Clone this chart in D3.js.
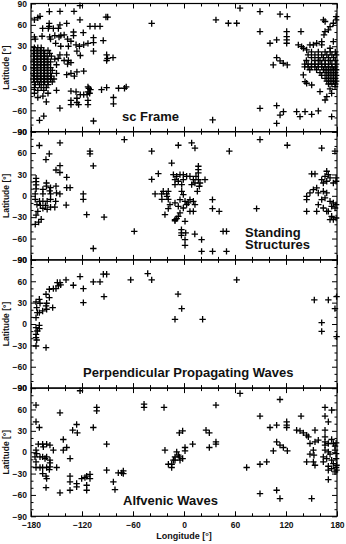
<!DOCTYPE html>
<html>
<head>
<meta charset="utf-8">
<script src="https://cdn.jsdelivr.net/npm/d3@7"></script>
<style>
body { margin: 0; background: #fff; }
svg { display: block; }
text { font-family: "Liberation Sans", Arial, sans-serif; font-weight: bold; fill: #111; }
</style>
</head>
<body>
<svg width="346" height="544"></svg>
<script>
// [longitude, latitude] of each event
const scFrame = [
  [-158.4,78.7],[-145.9,79],[-129.4,79],[-122.4,87],[-172,70],[-169.4,72],[-176,67],[-158.6,62],[-158.6,58],
  [-166.3,55],[-159.6,55],[-153.7,55],[-147.8,55],[-146,60],[-138,62],[-122.4,67],[-130,50],[-130,45],[-118.5,49],
  [-110.6,58],[-104.7,58],[-98.8,58],[-106.5,42],[-106.5,35],[-106.5,23],[-91.8,71],[-89.8,71],[-95,38],[-91,18],
  [-90,13],[-91,10],[-83.5,14],[-38,62],[-176,43],[-175,40],[-167,44],[-158,43],[-157,40],[-152,45],[-147,43],
  [-145,45],[-141,46],[-137,40],[-151,34],[-145,30],[-136,30],[-133,37],[-127,32],[-123,30],[-118,32],[-113,34],
  [-126,23],[-122,17],[-138,18],[-141,10],[-146,18],[-148,13],[-137,5],[-136,10],[-133,7],[-126,-6],[-138,-10],
  [-133,-8],[-129,-12],[-118,-5],[-113,-27],[-112,-29],[-110,-31],[-91,-28],[-97,-31],[-77,-29],[-70,-29],[-68,-27],
  [-83,-42],[-83,-51],[-133,-33],[-127,-34],[-122,-38],[-133,-46],[-133,-52],[-126,-43],[-126,-49],[-124,-52],
  [-113,-46],[-113,-52],[-114,-38],[-111,-36],[-113,-34],[-146,-57],[-118,-38],[-106.5,-75],[-170,-74],[-165,-68],
  [-162,-48],[-172,-42],[-166,-40],
  [-176,28],[-172,28],[-168,28],
  [-177,24],[-173,24],[-169,24],[-165,24],[-160,24],
  [-176,20],[-172,20],[-168,20],[-164,20],[-158,20],
  [-177,16],[-173,16],[-169,16],[-165,16],[-161,16],[-156,16],
  [-176,12],[-172,12],[-168,12],[-164,12],[-160,12],[-152,12],
  [-177,8],[-173,8],[-169,8],[-165,8],[-161,8],[-157,8],
  [-176,4],[-172,4],[-168,4],[-164,4],[-160,4],[-150,4],
  [-177,0],[-173,0],[-169,0],[-165,0],[-161,0],[-157,0],
  [-176,-4],[-172,-4],[-168,-4],[-164,-4],[-160,-4],[-155,-4],
  [-177,-8],[-173,-8],[-169,-8],[-165,-8],[-161,-8],[-157,-8],[-150,-8],
  [-176,-12],[-172,-12],[-168,-12],[-164,-12],[-160,-12],[-156,-12],
  [-177,-16],[-173,-16],[-169,-16],[-165,-16],[-161,-16],[-157,-16],[-153,-16],
  [-176,-20],[-172,-20],[-168,-20],[-164,-20],[-160,-20],[-155,-20],
  [-175,-24],[-170,-24],[-165,-24],[-160,-24],
  [-176,-28],[-168,-28],[-162,-28],[-172,-32],[-165,-32],[-150,-32],[-176,-36],[-160,-36],
  [37.6,67],[52.2,62.3],[62,62.3],[65.9,83.4],[89.4,78.7],[89.4,50.6],[113,75],[121.5,71.7],[120.8,50.6],
  [120.8,43.6],[120.8,38.9],[120.8,34.2],[137.6,50.6],[101.2,34.2],[109,38.9],[109,14],[113,9.4],[116.8,6.1],
  [121.5,3.7],[105,3.7],[89.4,-57.2],[109,-53.4],[109,-78.3],[117,-61.9],[113,-66.6],[33.7,-73.5],
  [132.5,-61.9],[136.5,-68.9],[142.4,-61.9],[150.2,-65.6],[158,-60.9],[173.7,-68.9],
  [164,67],[166,64.7],[175.7,62.3],[179,71.7],[179,67],[171.8,57.6],[169.8,53],[165.9,50.6],[164.7,46],
  [152.2,31.9],[156.1,34.2],[148.2,31.9],[140.4,27.2],[134.5,31.9],[138.4,29.5],[144.3,24.8],[162,36.6],
  [162,31.9],[175.7,36.6],[171.8,27.2],
  [140.4,-10.3],[142.4,-19.7],[144.3,-22],[150.2,-24.4],[160,-33.7],[166,-45.5],[168,-40.8],[173.7,-36.1],
  [177.7,-26.7],[171.8,-30],
  [150,22],[158,22],[166,22],[172,22],[178,22],
  [146,18],[154,18],[162,18],[168,18],[174,18],[179,18],
  [150,14],[158,14],[164,14],[170,14],[176,14],
  [144,10],[154,10],[160,10],[166,10],[172,10],[178,10],
  [142,5],[146,5],[150,5],[154,5],[158,5],[162,5],[166,5],[170,5],[174,5],[179,5],
  [142,1],[146,1],[150,1],[154,1],[158,1],[162,1],[166,1],[170,1],[174,1],[178,1],
  [148,-3],[156,-3],[164,-3],[168,-3],[172,-3],[176,-3],[179,-3],
  [160,-7],[166,-7],[170,-7],[174,-7],[178,-7],
  [162,-11],[168,-11],[172,-11],[176,-11],[179,-11],
  [166,-15],[170,-15],[174,-15],[178,-15],
  [168,-19],[172,-19],[176,-19],[179,-19],
  [170,-23],[174,-23],[178,-23]
];

const standing = [
  [-170.2,70.6],[-145.9,74.3],[-158.5,59],[-162.4,50.9],[-145.9,42.4],[-150.6,36.2],[-146,32.7],[-138,26],
  [-174,24.6],[-174,20],[-174,15.3],[-174,9.7],[-161.8,18],[-161.8,13.5],[-166,9],[-157,11.4],[-158,7],
  [-175,2.6],[-166,2.6],[-157,2.6],[-150,4],[-146,2.6],[-150.6,13.5],[-138,11.4],[-134,11.4],
  [-175,-5],[-170,-7.7],[-166,-7.7],[-161,-7.7],[-157,-5],[-151,-7.7],
  [-173,-12.3],[-169,-13.4],[-163,-13.4],[-157,-16],[-152,-16],[-166,-17.5],[-161,-19],[-172,-22],
  [-174,-27],[-175,-40],[-171,-37],[-168,-33],
  [-138.6,-13],[-118.5,2.6],[-118.5,-5],[-110.6,62.6],[-110.6,59],[-106.7,42],[-114.5,-26.5],[-94,-30],
  [-58.5,-50],[-106.7,-74],[-70.2,79],[-38,62.6],[-38,23],[-30.2,31],[-34,2.6],
  [-24.4,6.3],[-18.5,6.3],[-26.3,2.6],[-20.4,2.6],[-26,-5],[-18.5,-5],[-20,-0.7],[-22.4,-26.5],[-18.5,-18],
  [-14.5,46],[-6.7,71],[-10.6,-35],
  [9,74.3],[12.9,67],[53.3,62.6],[89.4,79],[121.5,71],[162,67],[177.6,62.6],[33.5,-5.4],[33.5,-18],
  [41.4,-21.8],[85.4,-18],
  [-3,-47.6],[-3,-52],[-3,-55.5],[2,-52],[12.7,-53.7],[1.2,-61.6],[1.2,-69.6],[20.7,-61.6],[20.7,-78],
  [33.6,-78],[50,-78],[46,-50],[50,-50],
  [16.9,41.5],[16.9,36.8],[16.9,32.1],[14.1,27.4],[16.9,22.7],[18.8,18],[18,13.4],[15.7,6.3],[24.7,22.7],
  [-12.5,29.8],[-8.6,27.4],[-4.7,29.8],[-0.8,29.8],[3.1,27.4],[-10.6,22.7],[-6.7,20.4],[-0.8,22.7],[7,27.4],
  [11,22.7],[12.9,18],[9,15.7],[-10.6,15.7],[-2.7,15.7],[-2.7,6.3],[-0.8,1.6],[-4.7,-5.4],[1.2,-7.7],
  [7,-5.4],[11,-7.7],[12.9,-12.4],[3.1,-12.4],[-10.6,-10],[-6.7,-14.8],[-0.8,-17.1],[5,-10],[11,-21.8],
  [7,-21.8],[-4.7,-24.1],[-6.7,-28.8],[-10.6,-33.5],[-8.6,-32.1],[1.2,-35.8],[-16.5,-12.4],
  [150.2,30.7],[154.1,30.7],[167.9,34.5],[165.9,27.4],[169.8,29.8],[171.8,25.1],[162,22.7],[163.9,18],
  [167.9,20.4],[175.7,18],[179,25.1],[179,20.4],[148.2,4],[152.2,8.7],[156.1,11],[144.3,-0.7],[144.3,-5.4],
  [158,4],[163.9,6.3],[167.9,4],[165.9,-3],[171.8,-7.7],[175.7,-10],[173.7,-14.8],[177.7,-17.1],[179,-12.4],
  [169.8,-21.8],[163.9,-17.1],[158,-12.4],[162,-5.4],[144.3,-21.8],[156.1,-21.8],[167.9,-21.8],
  [175.7,-33.5],[171.8,-33.5],[179,-31.2],[173.7,-28.8]
];

const perpendicular = [
  [-174.1,31],[-173.3,23],[-170.2,34.7],[-169.4,29.1],[-172.5,16],[-170.2,16],[-166.3,18.3],[-174.1,8.9],
  [-161.6,20.7],[-162.3,25.4],[-161.6,29.1],[-162.3,41.8],[-158.4,37.1],[-158.4,48.8],[-153.7,49.7],
  [-150.6,49.7],[-154.5,23],[-147.8,53.5],[-145.9,58.2],[-149,58.2],[-145.1,54.9],[-138.8,61.9],
  [-130.2,54.4],[-122.3,66.6],[-118.4,49.7],[-118.4,30],[-106.7,59.1],[-98.8,59.1],[-94.9,69.9],[-91,69.9],
  [-94.1,38.5],[-62.7,61.9],[-42.7,70.8],[-38,61.9],
  [-174.1,-5.1],[-172.5,-9.8],[-170.2,-1.8],[-170.2,-6.5],[-174.1,-14.5],[-174.1,-19.2],[-173.3,-22.5],
  [-174.1,-30.9],[-162.3,-33.2],
  [-7,42],[-2.7,21.6],[-10.6,6.6],[21.9,6.6],[62,61.9],[153.3,33.8],[169.8,33.8],[162,1.9],[162,-10.3],
  [177.6,21.6],[179.5,38.5],[179.5,-17.8]
];

const alfvenic = [
  [-174.1,66.1],[-174.1,42.7],[-170.2,34.7],[-122.3,86.3],[-145.9,55.3],[-102.7,62.8],[-102.7,58.1],
  [-131,30.9],[-125.5,27.2],[-126.3,38.9],[-106.7,34.7],[-142,17.8],[-142,2.8],[-138,6.6],[-134,-8.9],
  [-91,11.3],[-47,67.5],[-47,62.8],[-23.5,62.8],[-22.4,2.8],[-18.4,-16.9],
  [-174.1,2.8],[-173.3,-1.9],[-175.3,-6.5],[-174.1,-13.6],[-171.4,11.3],[-166.3,11.3],[-165.5,7.5],
  [-161.6,11.3],[-157.7,9.9],[-169.4,-6.5],[-166.3,-6.5],[-161.6,-6.5],[-163.5,-8.9],[-174.1,-21.5],
  [-169.4,-21.5],[-166.3,-21.5],[-161.6,-21.5],[-166.3,-30],[-162.3,-33.7],[-161.6,-37],[-162.3,-49.7],
  [-157.7,-20.6],[-158.4,-24.4],[-157.7,-15],[-149.8,-21.5],[-153.7,2.8],[-157.7,-11.2],
  [-145.9,-57],[-134.1,-33.7],[-134.1,-41.7],[-134.1,-53.4],[-126.3,-44],[-126.3,-48.7],[-120.4,-37],
  [-114.5,-33.7],[-114.5,-46.4],[-114.5,-53.4],[-110.6,-31],[-110.6,-37],[-91,-25.3],[-83.1,-41.7],
  [-81.2,-52.5],[-77.3,-29],[-73.3,-29],[-71.4,-26.2],[-71.4,-30],[-116.5,-35.6],
  [65.9,82.5],[112.9,74],[37.6,66.1],[89.4,50.6],[101.2,34.7],[109,38],[120.8,42.7],[120.8,38],[120.8,34.7],
  [137.7,50.6],[-5.5,27.2],[-1.6,30],[25.9,30.9],[29.8,27.2],[37.6,14.5],[37.6,11.3],[29.8,6.6],[10.2,11.3],
  [1.2,6.6],[1.2,1.9],[-8.6,0.5],[-6.7,-4.2],[-10.6,-6.5],[-12.5,-11.2],[-14.5,-16.9],[-14.5,-21.5],
  [-10.6,-11.2],[-4.7,-11.2],[-1.6,-8.9],[-5.5,-6.5],
  [109,14.5],[112.9,9.9],[116.9,6.6],[121.6,1.9],[105.1,1.9],[97.3,-13.6],[89.4,-16.9],[73.7,-21.5],
  [89.4,-58.1],[109,-53.4],[112.9,-65.1],[150.2,-65.1],
  [132.5,30.9],[136.5,30],[140.4,27.2],[144.3,23.9],[146.3,21.6],[154.1,30.9],[165.9,62.8],[165.9,50.6],
  [173.7,59],[169.8,42.7],[165.9,30.9],
  [148.2,12.2],[154.1,14.5],[158,16.9],[152.2,2.8],[148.2,-2.8],[152.9,-4.2],[144.3,-13.6],[152.2,-13.6],
  [154.1,-18.3],[165.9,21.6],[165.9,14.5],[165.9,9.9],[169.8,12.2],[173.7,17.8],[175.7,12.2],[177.7,8.4],
  [179,13.1],[165.9,2.8],[169.8,0.5],[171.8,-2.8],[177.7,2.8],[179,-1.9],[163.9,-6.5],[167.9,-8.9],
  [173.7,-11.2],[179,-8.9],[175.7,-16],[169.8,-19.7],[173.7,-23],[179,-21.5],[177.7,-27.6],[169.8,-25.3],
  [169.8,-38.4],[163.9,-13.6],[179.5,-18.3],[179.5,-25.3]
];

const panels = [
  { name: 'sc Frame', data: scFrame, label: ['sc Frame'], lx: 122, ly: 121 },
  { name: 'Standing Structures', data: standing, label: ['Standing', 'Structures'], lx: 245, ly: 237 },
  { name: 'Perpendicular Propagating Waves', data: perpendicular, label: ['Perpendicular Propagating Waves'], lx: 83, ly: 377 },
  { name: 'Alfvenic Waves', data: alfvenic, label: ['Alfvenic Waves'], lx: 123, ly: 505 }
];

const lonTicks = [-180, -120, -60, 0, 60, 120, 180];
const lonMinor = [-160, -140, -100, -80, -40, -20, 20, 40, 80, 100, 140, 160];
const latTicks = [-90, -60, -30, 0, 30, 60, 90];
const latMinor = [-80, -70, -50, -40, -20, -10, 10, 20, 40, 50, 70, 80];

const svg = d3.select('svg');
const margin = { top: 3.5, left: 31 };
const innerWidth = 306;
const panelHeight = 128.2;

const xScale = d3.scaleLinear().domain([-180, 180]).range([0, innerWidth]);
const yScale = d3.scaleLinear().domain([-90, 90]).range([panelHeight, 0]);

const noDomain = g => g.select('.domain').remove();
const plus = 'M-3.2,0H3.2M0,-3.2V3.2';

panels.forEach((p, i) => {
  const top = margin.top + i * panelHeight;
  const g = svg.append('g')
    .attr('transform', `translate(${margin.left}, ${top})`);

  g.append('rect')
    .attr('width', innerWidth)
    .attr('height', panelHeight)
    .attr('fill', 'none')
    .attr('stroke', '#000')
    .attr('stroke-width', 1.2);

  g.append('g').call(d3.axisLeft(yScale).tickValues(latTicks).tickSize(-5).tickPadding(4)).call(noDomain);
  g.append('g').call(d3.axisLeft(yScale).tickValues(latMinor).tickSize(-2.5).tickFormat('')).call(noDomain);
  g.append('g').attr('transform', `translate(${innerWidth},0)`)
    .call(d3.axisRight(yScale).tickValues(latTicks).tickSize(-5).tickFormat('')).call(noDomain);
  g.append('g').attr('transform', `translate(${innerWidth},0)`)
    .call(d3.axisRight(yScale).tickValues(latMinor).tickSize(-2.5).tickFormat('')).call(noDomain);
  g.append('g').call(d3.axisTop(xScale).tickValues(lonTicks).tickSize(-5).tickFormat('')).call(noDomain);
  g.append('g').call(d3.axisTop(xScale).tickValues(lonMinor).tickSize(-3).tickFormat('')).call(noDomain);

  const bottom = d3.axisBottom(xScale).tickValues(lonTicks).tickSize(-5).tickPadding(6);
  if (i < panels.length - 1) bottom.tickFormat('');
  g.append('g').attr('transform', `translate(0,${panelHeight})`).call(bottom).call(noDomain);
  g.append('g').attr('transform', `translate(0,${panelHeight})`)
    .call(d3.axisBottom(xScale).tickValues(lonMinor).tickSize(-3).tickFormat('')).call(noDomain);

  g.selectAll('.tick line').attr('stroke', '#000').attr('stroke-width', 1);
  g.selectAll('.tick text')
    .attr('font-size', '8.5px')
    .attr('font-family', '"Liberation Sans", Arial, sans-serif')
    .attr('font-weight', 'bold')
    .attr('fill', '#222');

  g.append('text')
    .attr('transform', `translate(${6 - margin.left}, ${panelHeight / 2}) rotate(-90)`)
    .attr('text-anchor', 'middle')
    .attr('dy', '0.35em')
    .attr('font-size', '8.5px')
    .text('Latitude [°]');

  g.selectAll('path.mark').data(p.data)
    .enter().append('path')
      .attr('class', 'mark')
      .attr('d', plus)
      .attr('transform', d => `translate(${xScale(d[0])},${yScale(d[1])})`)
      .attr('stroke', '#000')
      .attr('stroke-width', 1.3)
      .attr('fill', 'none');

  const t = svg.append('text')
    .attr('x', p.lx)
    .attr('y', p.ly)
    .attr('font-size', '13px');
  p.label.forEach((line, k) => {
    t.append('tspan').attr('x', p.lx).attr('dy', k === 0 ? 0 : 12).text(line);
  });
});

svg.append('text')
  .attr('x', margin.left + innerWidth / 2)
  .attr('y', 539)
  .attr('text-anchor', 'middle')
  .attr('font-size', '9px')
  .text('Longitude [°]');
</script>
</body>
</html>
